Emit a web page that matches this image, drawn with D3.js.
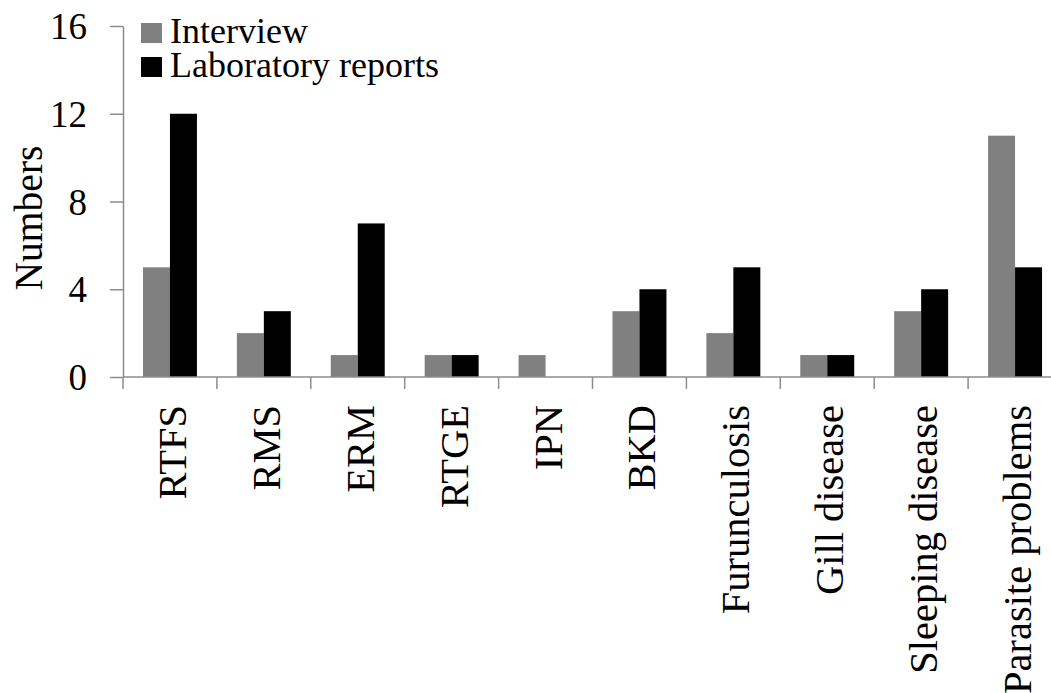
<!DOCTYPE html>
<html>
<head>
<meta charset="utf-8">
<script src="https://cdn.jsdelivr.net/npm/d3@7"></script>
<style>
  body { margin: 0; background: #fff; }
  svg { display: block; }
  svg text { font-family: 'Liberation Serif', Tinos, 'Times New Roman', serif; }
</style>
</head>
<body>
<svg id="chart" width="1051" height="693" font-family="Liberation Serif"></svg>
<script>
// Disease reports per category, by source
const categories = ["RTFS", "RMS", "ERM", "RTGE", "IPN", "BKD", "Furunculosis",
  "Gill disease", "Sleeping disease", "Parasite problems"];
const seriesNames = ["Interview", "Laboratory reports"];
const interview = [5, 2, 1, 1, 1, 3, 2, 1, 3, 11];
const laboratory = [12, 3, 7, 1, 0, 4, 5, 1, 4, 5];
const yTicks = [0, 4, 8, 12, 16];
const colors = ["#808080", "#000000"];

(function drawChart() {
  const svg = d3.select("#chart");
  const axisColor = "#8c8c8c";
  const serifFamily = "'Liberation Serif', Tinos, 'Times New Roman', serif";

  const plotLeft = 123, plotRight = 1062, plotTop = 26, plotBottom = 377;

  const x0 = d3.scaleBand().domain(categories).range([plotLeft, plotRight]).padding(0);
  const x1 = d3.scaleBand().domain(seriesNames).range([0, x0.bandwidth()])
    .paddingInner(0).paddingOuter(0.74);
  const y = d3.scaleLinear().domain([0, 16]).range([plotBottom, plotTop]);

  const rows = categories.map((c, i) => ({ cat: c, values: [interview[i], laboratory[i]] }));

  // Bars
  const groups = svg.append("g").selectAll("g").data(rows).join("g")
    .attr("transform", d => `translate(${x0(d.cat)},0)`);
  groups.selectAll("rect")
    .data(d => d.values.map((v, k) => ({ name: seriesNames[k], v, k })))
    .join("rect")
    .attr("x", d => x1(d.name))
    .attr("width", x1.bandwidth())
    .attr("y", d => y(d.v))
    .attr("height", d => y(0) - y(d.v))
    .attr("fill", d => colors[d.k]);

  // Y axis
  const yAxis = svg.append("g")
    .attr("transform", `translate(${plotLeft},0)`)
    .call(d3.axisLeft(y).tickValues(yTicks).tickSize(13).tickPadding(23).tickSizeOuter(0))
    .attr("font-family", serifFamily)
    .attr("font-size", 37);
  yAxis.select(".domain").attr("stroke", axisColor).attr("stroke-width", 1.5);
  yAxis.selectAll(".tick line").attr("stroke", axisColor).attr("stroke-width", 1.5);
  yAxis.selectAll(".tick text")
    .attr("fill", "#000")
    .attr("font-family", serifFamily)
    .style("font-family", serifFamily).style("font-size", "37px")
    .attr("dy", "0.34em");

  // X axis: baseline and category boundary ticks
  svg.append("line")
    .attr("x1", plotLeft).attr("x2", plotRight).attr("y1", y(0)).attr("y2", y(0))
    .attr("stroke", axisColor).attr("stroke-width", 1.5);
  const bounds = categories.map(c => x0(c)).concat([plotRight]);
  svg.append("g").selectAll("line").data(bounds).join("line")
    .attr("x1", d => d).attr("x2", d => d)
    .attr("y1", y(0)).attr("y2", y(0) + 12)
    .attr("stroke", axisColor).attr("stroke-width", 1.5);

  // Category labels, rotated
  svg.append("g").selectAll("text").data(categories).join("text")
    .attr("transform", d => `translate(${x0(d) + x0.bandwidth() / 2 + 16},${y(0) + 28}) rotate(-90)`)
    .attr("text-anchor", "end")
    .attr("font-family", serifFamily)
    .style("font-family", serifFamily).style("font-size", "40.5px")
    .attr("fill", "#000")
    .text(d => d);

  // Y axis title
  svg.append("text")
    .attr("transform", `translate(42,218) rotate(-90)`)
    .attr("text-anchor", "middle")
    .attr("font-family", serifFamily)
    .style("font-family", serifFamily).style("font-size", "39.5px")
    .attr("fill", "#000")
    .text("Numbers");

  // Legend
  const legend = svg.append("g").attr("transform", "translate(141,23)");
  seriesNames.forEach((name, i) => {
    const g = legend.append("g").attr("transform", `translate(0,${i * 34})`);
    g.append("rect").attr("width", 21).attr("height", 20).attr("fill", colors[i]);
    g.append("text").attr("x", 29).attr("y", 20)
      .attr("font-family", serifFamily)
      .style("font-family", serifFamily).style("font-size", "36px")
      .attr("fill", "#000").text(name);
  });
})();
</script>
</body>
</html>
